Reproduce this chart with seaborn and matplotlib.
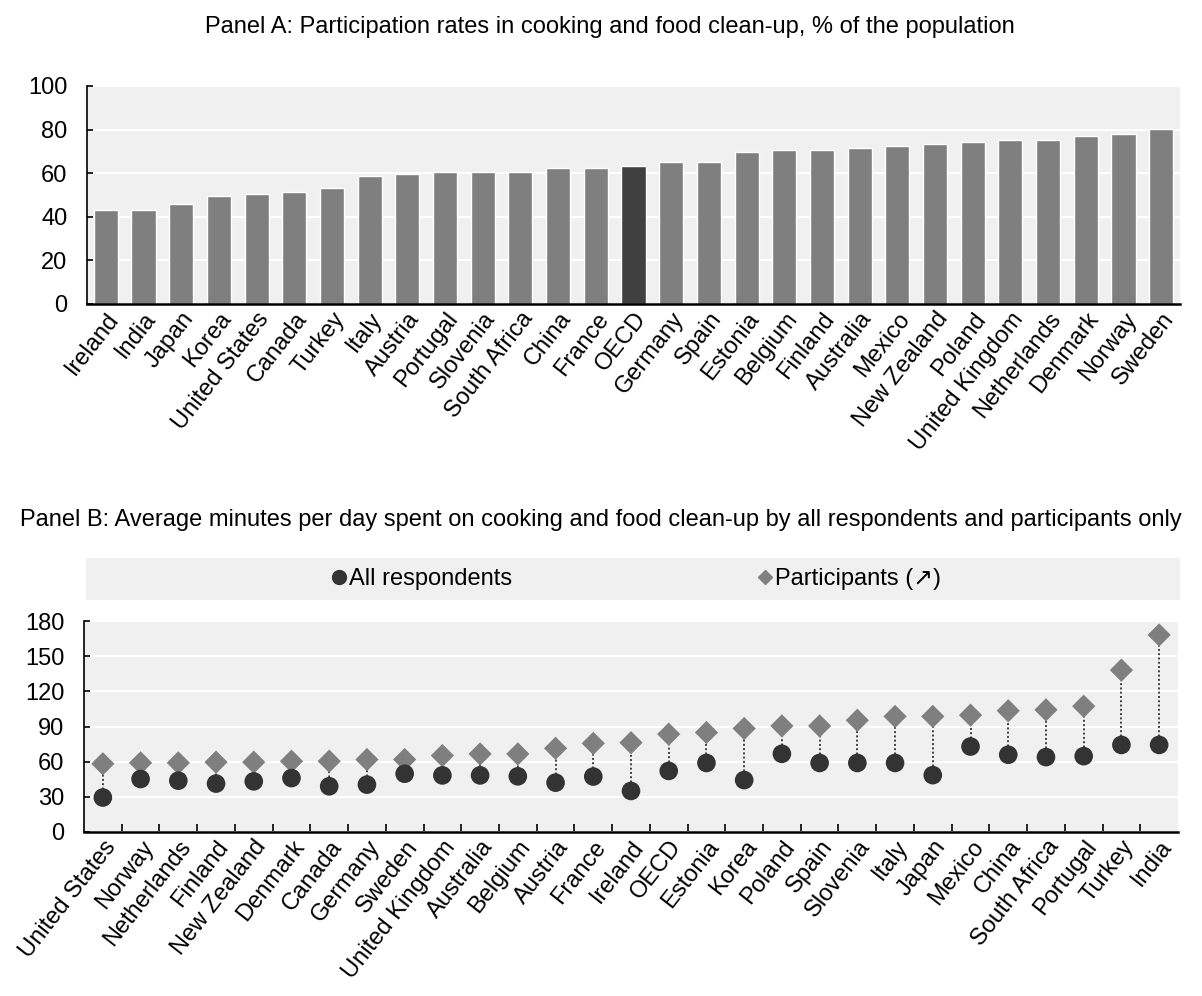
import numpy as np
import pandas as pd
import matplotlib
matplotlib.use("Agg")
import matplotlib.pyplot as plt
import seaborn as sns
from matplotlib.lines import Line2D

# --- data: Panel A (participation rate, %) ---
a_countries = ['Ireland', 'India', 'Japan', 'Korea', 'United States', 'Canada', 'Turkey',
               'Italy', 'Austria', 'Portugal', 'Slovenia', 'South Africa', 'China', 'France',
               'OECD', 'Germany', 'Spain', 'Estonia', 'Belgium', 'Finland', 'Australia',
               'Mexico', 'New Zealand', 'Poland', 'United Kingdom', 'Netherlands',
               'Denmark', 'Norway', 'Sweden']
a_rates = [43.3, 43.3, 45.9, 49.5, 50.6, 51.5, 53.2, 58.8, 59.7, 60.5, 60.5, 60.5, 62.4, 62.4,
           63.2, 65.0, 65.0, 69.9, 70.6, 70.6, 71.4, 72.3, 73.3, 74.2, 75.0, 75.0, 76.9, 77.9, 80.5]

# --- data: Panel B (minutes per day) ---
b_countries = ['United States', 'Norway', 'Netherlands', 'Finland', 'New Zealand', 'Denmark',
               'Canada', 'Germany', 'Sweden', 'United Kingdom', 'Australia', 'Belgium',
               'Austria', 'France', 'Ireland', 'OECD', 'Estonia', 'Korea', 'Poland', 'Spain',
               'Slovenia', 'Italy', 'Japan', 'Mexico', 'China', 'South Africa', 'Portugal',
               'Turkey', 'India']
b_all = [29.4, 45.2, 43.8, 41.3, 43.2, 46.0, 39.0, 40.4, 49.7, 48.3, 48.3, 47.5, 42.1, 47.3,
         35.0, 52.1, 58.9, 44.3, 66.7, 58.9, 58.9, 58.9, 48.5, 72.9, 65.9, 63.9, 64.7, 74.3, 74.3]
b_part = [58.2, 59.0, 59.0, 59.6, 59.6, 60.4, 60.4, 61.8, 61.8, 65.2, 66.6, 66.6, 71.4, 75.6,
          76.2, 83.5, 84.9, 88.3, 90.5, 90.5, 95.3, 98.6, 98.6, 99.7, 103.4, 104.2, 107.3,
          138.1, 168.1]

BG = '#f0f0f0'
FS = 17
W, H = 1202, 996


def box(l, t, r, b):
    # pixel box -> figure fraction rect
    return [l / W, 1 - b / H, (r - l) / W, (b - t) / H]


def style_axes(ax):
    ax.set_facecolor(BG)
    ax.yaxis.grid(True, color='white', linewidth=1.5)
    ax.set_axisbelow(True)
    ax.set_xlabel('')
    ax.set_ylabel('')
    for s in ['top', 'right']:
        ax.spines[s].set_visible(False)
    ax.spines['left'].set_color('black')
    ax.spines['left'].set_linewidth(1.2)
    ax.spines['bottom'].set_color('black')
    ax.spines['bottom'].set_linewidth(1.8)
    ax.tick_params(axis='y', direction='in', length=4, width=1.2, color='black',
                   labelsize=FS, labelcolor='black', left=True, pad=14)


sns.set_theme(style='white')
plt.rcParams['font.family'] = ['Liberation Sans', 'DejaVu Sans']
plt.rcParams['text.color'] = 'black'

fig = plt.figure(figsize=(W / 100, H / 100), dpi=100)

# ---------------- Panel A ----------------
axA = fig.add_axes(box(87, 86, 1180, 304))
dfA = pd.DataFrame({'country': a_countries, 'rate': a_rates})
palA = {c: ('#404040' if c == 'OECD' else '#7f7f7f') for c in a_countries}
sns.barplot(data=dfA, x='country', y='rate', hue='country', palette=palA, legend=False,
            width=0.64, saturation=1, ax=axA, zorder=1)
style_axes(axA)
axA.set_ylim(0, 100)
axA.set_xlim(-0.5, len(a_countries) - 0.5)
axA.set_yticks(np.arange(0, 101, 20))
axA.tick_params(axis='x', length=0, labelsize=FS, labelcolor='black', pad=3)
plt.setp(axA.get_xticklabels(), rotation=52, ha='right', rotation_mode='anchor')
fig.text(610 / W, 1 - 27 / H,
         'Panel A: Participation rates in cooking and food clean-up, % of the population',
         ha='center', va='center', fontsize=FS)

# ---------------- Panel B ----------------
fig.text(0.5, 1 - 520 / H,
         'Panel B: Average minutes per day spent on cooking and food clean-up by all respondents and participants only',
         ha='center', va='center', fontsize=FS)

axL = fig.add_axes(box(86, 558, 1180, 600))
axL.set_facecolor(BG)
axL.set_xticks([])
axL.set_yticks([])
for s in axL.spines.values():
    s.set_visible(False)
h_all = Line2D([], [], marker='o', color='#333333', linestyle='none', markersize=10)
h_part = Line2D([], [], marker='D', color='#7f7f7f', linestyle='none', markersize=7)
leg1 = axL.legend([h_all], ['All respondents'], loc='center left',
                  bbox_to_anchor=((328 - 86) / 1094, 0.5), frameon=False, fontsize=FS,
                  handletextpad=0.0, handlelength=0.9, borderaxespad=0, borderpad=0)
axL.add_artist(leg1)
axL.legend([h_part], ['Participants (\u2197)'], loc='center left',
           bbox_to_anchor=((754 - 86) / 1094, 0.5), frameon=False, fontsize=FS,
           handletextpad=0.0, handlelength=0.9, borderaxespad=0, borderpad=0)

axB = fig.add_axes(box(84, 621, 1178, 832))
dfB = pd.DataFrame({'country': b_countries, 'all': b_all, 'part': b_part})
xpos = np.arange(len(b_countries))
axB.vlines(xpos, dfB['all'], dfB['part'], colors='#404040', linestyles=(0, (1, 1.2)),
           linewidth=1.4, zorder=2)
sns.scatterplot(data=dfB, x='country', y='part', marker='D', color='#7f7f7f', s=140,
                edgecolor='none', ax=axB, zorder=3)
sns.scatterplot(data=dfB, x='country', y='all', marker='o', color='#333333', s=180,
                edgecolor='none', ax=axB, zorder=4)
style_axes(axB)
axB.set_ylim(0, 180)
axB.set_xlim(-0.5, len(b_countries) - 0.5)
axB.set_yticks(np.arange(0, 181, 30))
axB.set_xticks(xpos)
axB.set_xticklabels(b_countries)
axB.set_xticks(xpos[:-1] + 0.5, minor=True)
axB.tick_params(axis='x', which='major', length=0, labelsize=FS, labelcolor='black', pad=3)
axB.tick_params(axis='x', which='minor', direction='in', length=6, width=1.2,
                color='black', bottom=True)
plt.setp(axB.get_xticklabels(), rotation=52, ha='right', rotation_mode='anchor')

fig.savefig('out.png', dpi=100)
